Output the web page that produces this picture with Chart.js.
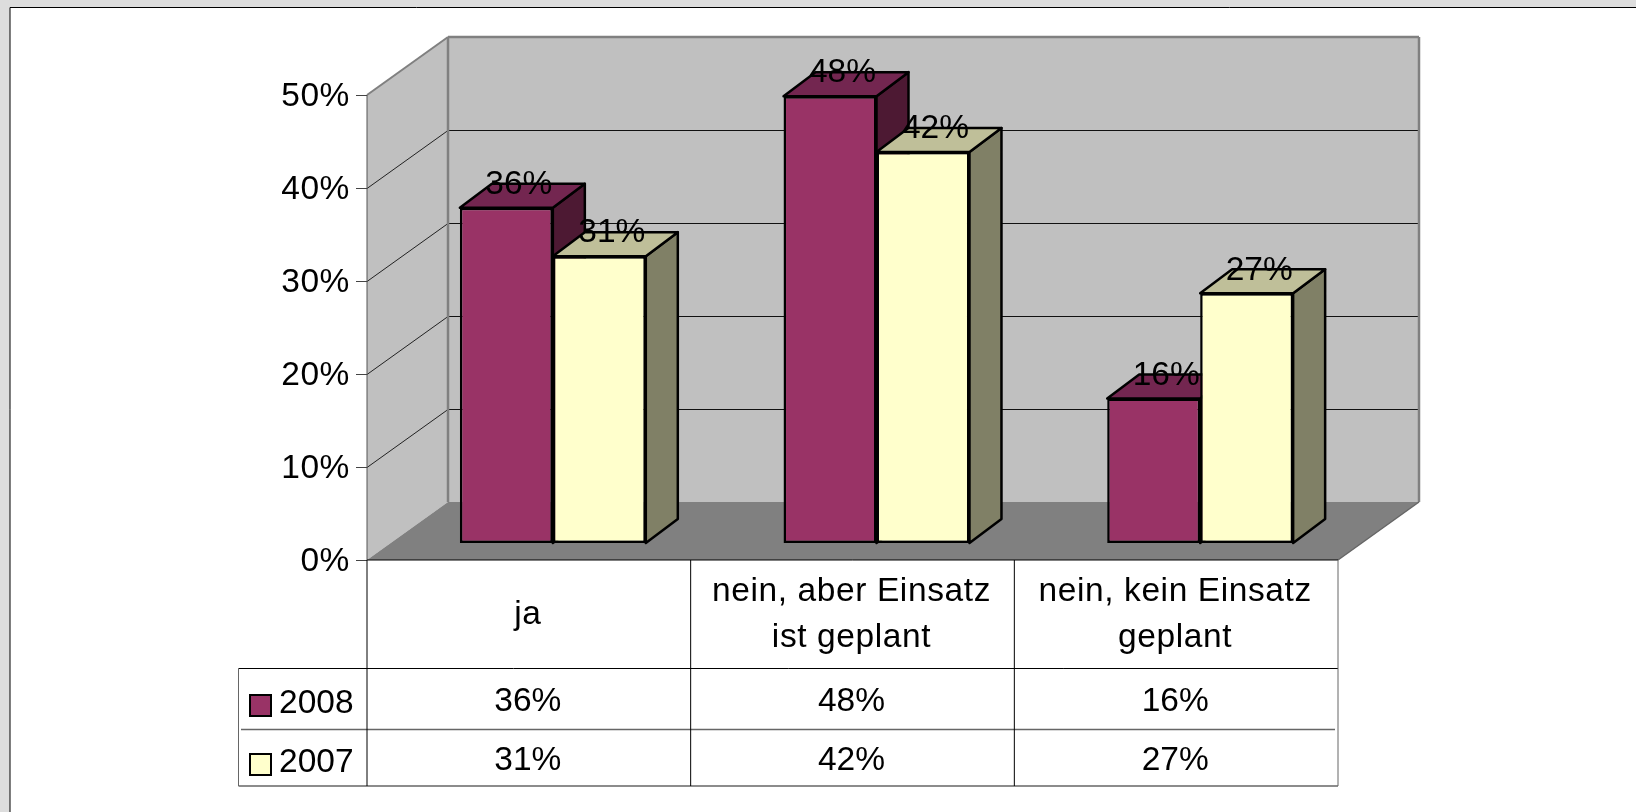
<!DOCTYPE html>
<html>
<head>
<meta charset="utf-8">
<title>Einsatz 2008 / 2007</title>
<style>
  html, body { margin: 0; padding: 0; background: #ddd; }
  #wrap { width: 1636px; height: 812px; }
</style>
</head>
<body>
<div id="wrap"><canvas id="chart" width="1636" height="812"></canvas></div>
<script src="https://cdn.jsdelivr.net/npm/chart.js@4/dist/chart.umd.js"></script>
<script>
const categories = [['ja'], ['nein, aber Einsatz', 'ist geplant'], ['nein, kein Einsatz', 'geplant']];
const years = ['2008', '2007'];
const values2008 = [36.1, 48.1, 15.6];
const values2007 = [30.9, 42.1, 26.9];

const FONT = '33.5px "Liberation Sans", Arial, sans-serif';
const SPACING = '0.6px';

// wall depth of the fake 3D box, and where the bars sit inside it
const wall = { dx: 81, dy: -58 };
const barShift = { x: 24, y: -16.5 };
const barDepth = { x: 32, y: -24 };

const sideColors = ['#4d1933', '#808066'];
const topColors = ['#732650', '#bfbf99'];

function poly(ctx, pts, fill, stroke, width) {
  ctx.beginPath();
  pts.forEach((p, i) => (i ? ctx.lineTo(p[0], p[1]) : ctx.moveTo(p[0], p[1])));
  ctx.closePath();
  if (fill) { ctx.fillStyle = fill; ctx.fill(); }
  if (stroke) { ctx.strokeStyle = stroke; ctx.lineWidth = width; ctx.stroke(); }
}

function line(ctx, x1, y1, x2, y2, color, width) {
  ctx.beginPath();
  ctx.moveTo(x1, y1);
  ctx.lineTo(x2, y2);
  ctx.strokeStyle = color;
  ctx.lineWidth = width;
  ctx.stroke();
}

const box3d = {
  id: 'box3d',
  beforeDraw(chart) {
    const { ctx, chartArea: a, scales: { y } } = chart;
    // axis labels in the reference run a bit wider than the plain font
    ctx.letterSpacing = SPACING;
    ctx.save();
    // page frame
    ctx.fillStyle = '#dddddd';
    ctx.fillRect(0, 0, chart.width, chart.height);
    ctx.fillStyle = '#ffffff';
    ctx.fillRect(10, 8, chart.width - 10, chart.height - 8);
    line(ctx, 10, 7.5, chart.width, 7.5, '#000', 1);
    line(ctx, 10, 7.5, 10, chart.height, '#000', 1);

    const bx = a.left + wall.dx, by = a.bottom + wall.dy;
    const tx = a.left + wall.dx, ty = a.top + wall.dy;
    const rx = a.right + wall.dx;

    // walls and floor
    poly(ctx, [[a.left, a.top], [tx, ty], [bx, by], [a.left, a.bottom]], '#c0c0c0');
    poly(ctx, [[tx, ty], [rx, ty], [rx, by], [bx, by]], '#c0c0c0');
    poly(ctx, [[a.left, a.bottom], [bx, by], [rx, by], [a.right, a.bottom]], '#808080');

    // gridlines, taken from the value axis
    y.ticks.forEach(t => {
      if (t.value === 0 || t.value === y.max) return;
      const py = Math.round(y.getPixelForValue(t.value)) + 0.5;
      line(ctx, a.left, py, bx, py + wall.dy, '#222', 1);
      line(ctx, bx, py + wall.dy, rx, py + wall.dy, '#111', 1);
    });

    // wall outlines
    line(ctx, a.left, a.top, tx, ty, '#808080', 2);
    line(ctx, tx, ty, rx, ty, '#808080', 2.5);
    line(ctx, tx, ty, bx, by, '#808080', 2.5);
    line(ctx, rx, ty, rx, by, '#808080', 2.5);
    line(ctx, rx, by, a.right, a.bottom, '#666', 1.5);
    line(ctx, a.left, a.top, a.left, a.bottom, '#555', 1);
    ctx.restore();
  },
  beforeDatasetsDraw(chart) {
    const { ctx } = chart;
    ctx.save();
    ctx.translate(barShift.x, barShift.y);
    // side and top faces of every bar, fronts are then drawn by the library
    chart.data.datasets.forEach((ds, d) => {
      chart.getDatasetMeta(d).data.forEach(el => {
        const l = el.x - el.width / 2, r = el.x + el.width / 2;
        const top = el.y, base = el.base;
        const dx = barDepth.x, dy = barDepth.y;
        ctx.lineJoin = 'round';
        poly(ctx, [[r, top], [r + dx, top + dy], [r + dx, base + dy], [r, base]], sideColors[d], '#000', 2.5);
        poly(ctx, [[l, top], [l + dx, top + dy], [r + dx, top + dy], [r, top]], topColors[d], '#000', 2.5);
      });
    });
  },
  afterDatasetsDraw(chart) {
    const { ctx } = chart;
    ctx.font = FONT;
    ctx.letterSpacing = '0px';
    ctx.fillStyle = '#000';
    ctx.textAlign = 'center';
    ctx.textBaseline = 'middle';
    chart.data.datasets.forEach((ds, d) => {
      chart.getDatasetMeta(d).data.forEach((el, i) => {
        ctx.fillText(Math.round(ds.data[i]) + '%', el.x + 12.5, el.y - 23);
      });
    });
    ctx.restore();
  },
  afterDraw(chart) {
    const { ctx, chartArea: a, scales: { x } } = chart;
    const rows = [668.5, 729.5, 786];
    const legendLeft = 238.5;
    const half = (x.getPixelForValue(1) - x.getPixelForValue(0)) / 2;
    ctx.save();

    // data table lines
    line(ctx, a.left, a.bottom, a.right, a.bottom, '#000', 1);
    line(ctx, legendLeft, rows[0], a.right, rows[0], '#000', 1);
    line(ctx, 241, rows[1], a.right - 3, rows[1], '#666', 1.5);
    line(ctx, legendLeft, rows[2], a.right, rows[2], '#666', 1.5);
    line(ctx, legendLeft, rows[0], legendLeft, rows[2], '#666', 1);
    line(ctx, a.left, a.bottom, a.left, rows[2], '#000', 1);
    categories.forEach((c, i) => {
      const edge = x.getPixelForValue(i) + half;
      line(ctx, edge, a.bottom, edge, rows[2], i === categories.length - 1 ? '#666' : '#000', 1);
    });

    // data table text
    ctx.font = FONT;
    ctx.letterSpacing = '0px';
    ctx.textBaseline = 'middle';
    const rowText = [702, 760.5];
    const legendText = [704, 763];
    const swatchTop = [695, 754];
    chart.data.datasets.forEach((ds, d) => {
      ctx.textAlign = 'center';
      ctx.fillStyle = '#000';
      ds.data.forEach((v, i) => {
        ctx.fillText(Math.round(v) + '%', x.getPixelForValue(i) - 1, rowText[d]);
      });
      ctx.textAlign = 'left';
      ctx.fillText(ds.label, 279, legendText[d]);
      ctx.fillStyle = ds.backgroundColor;
      ctx.strokeStyle = '#000';
      ctx.lineWidth = 2;
      ctx.fillRect(250, swatchTop[d], 21, 21);
      ctx.strokeRect(250, swatchTop[d], 21, 21);
    });
    ctx.restore();
  }
};

new Chart(document.getElementById('chart'), {
  type: 'bar',
  plugins: [box3d],
  data: {
    labels: categories,
    datasets: [
      { label: years[0], data: values2008, backgroundColor: '#993366' },
      { label: years[1], data: values2007, backgroundColor: '#ffffcc' }
    ]
  },
  options: {
    responsive: false,
    animation: false,
    layout: { padding: { top: 95, right: 298, bottom: 0, left: 0 } },
    datasets: {
      bar: {
        categoryPercentage: 0.5745,
        barPercentage: 1,
        borderColor: '#000',
        borderWidth: 2.5,
        borderSkipped: false,
        clip: false
      }
    },
    plugins: { legend: { display: false }, tooltip: { enabled: false } },
    scales: {
      x: {
        afterFit: s => { s.height = 252; },
        grid: { display: false },
        border: { display: false },
        ticks: {
          color: '#000',
          padding: 24,
          labelOffset: -1,
          maxRotation: 0,
          autoSkip: false,
          crossAlign: 'center',
          font: { family: '"Liberation Sans", Arial, sans-serif', size: 33.5, lineHeight: 1.38 }
        }
      },
      y: {
        min: 0,
        max: 50,
        afterFit: s => { s.width = 367; },
        border: { display: false },
        grid: { drawOnChartArea: false, drawTicks: true, tickLength: 11, tickColor: '#444', tickWidth: 1 },
        ticks: {
          stepSize: 10,
          color: '#000',
          padding: 6,
          labelOffset: 2,
          callback: v => v + '%',
          font: { family: '"Liberation Sans", Arial, sans-serif', size: 33.5 }
        }
      }
    }
  }
});
</script>
</body>
</html>
